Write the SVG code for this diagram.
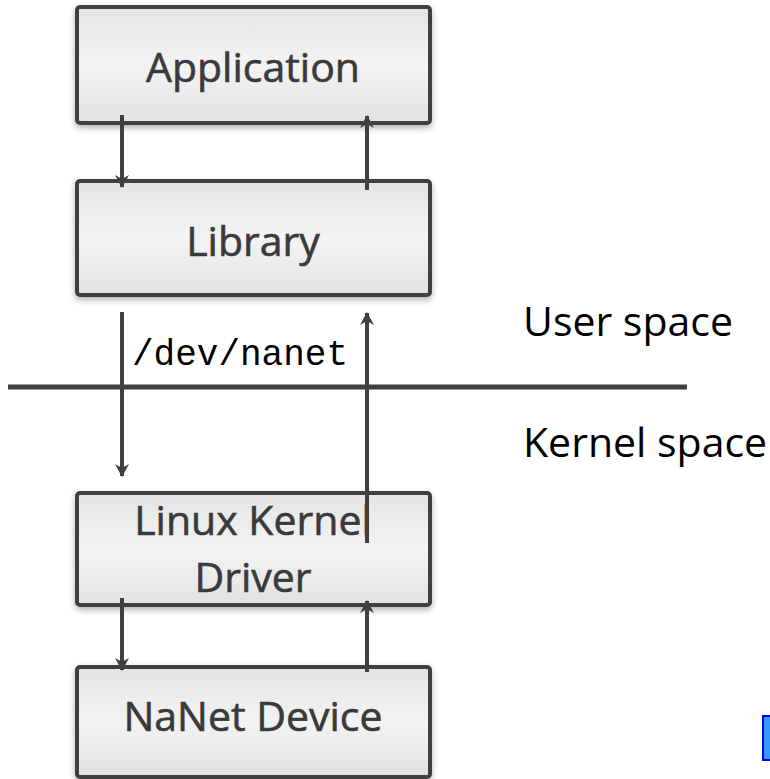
<svg xmlns="http://www.w3.org/2000/svg" width="770" height="779" viewBox="0 0 770 779">
<defs>
<linearGradient id="g" x1="0" y1="0" x2="0" y2="1">
<stop offset="0" stop-color="#e4e4e4"/>
<stop offset="0.5" stop-color="#f3f3f3"/>
<stop offset="1" stop-color="#e2e2e2"/>
</linearGradient>
<filter id="sh" x="-10%" y="-10%" width="120%" height="130%">
<feDropShadow dx="0" dy="3" stdDeviation="3" flood-color="#000" flood-opacity="0.3"/>
</filter>
<marker id="ah" markerWidth="16" markerHeight="16" refX="12" refY="7" orient="auto" markerUnits="userSpaceOnUse" overflow="visible">
<path d="M0,0 L13,7 L0,14 L4,7 Z" fill="#404040"/>
</marker>
<style>
.box{fill:url(#g);stroke:#404040;stroke-width:4;filter:url(#sh)}
.lbl{font-family:"Open Sans","Noto Sans",sans-serif;font-size:41px;fill:#3a3a3a;stroke:#3a3a3a;stroke-width:0.6;text-anchor:middle}
.side{font-family:"Open Sans","Noto Sans",sans-serif;font-size:41px;fill:#000}
.mono{font-family:"Liberation Mono","DejaVu Sans Mono",monospace;font-size:36px;fill:#000}
.con{stroke:#404040;stroke-width:4;fill:none}
</style>
</defs>
<g id="application"><rect class="box" x="77" y="7" width="353" height="116" rx="3"/><text class="lbl" x="253" y="82">Application</text></g>
<g id="library"><rect class="box" x="77" y="181" width="353" height="114" rx="3"/><text class="lbl" x="253" y="256">Library</text></g>
<g id="driver"><rect class="box" x="77" y="493" width="353" height="112" rx="3"/><text class="lbl" x="253" y="535">Linux Kernel</text><text class="lbl" x="253" y="592">Driver</text></g>
<g id="device"><rect class="box" x="77" y="667" width="353" height="110" rx="3"/><text class="lbl" x="253" y="731">NaNet Device</text></g>
<g id="boundary"><line x1="8" y1="387" x2="687" y2="387" stroke="#404040" stroke-width="5"/><text class="side" x="523" y="336">User space</text><text class="side" x="523" y="457">Kernel space</text><text class="mono" x="132" y="365">/dev/nanet</text></g>
<g id="connectors">
<line class="con" x1="122" y1="115" x2="122" y2="187" marker-end="url(#ah)"/>
<line class="con" x1="367" y1="190" x2="367" y2="116" marker-end="url(#ah)"/>
<line class="con" x1="122" y1="312" x2="122" y2="476" marker-end="url(#ah)"/>
<line class="con" x1="367" y1="543" x2="367" y2="313" marker-end="url(#ah)"/>
<line class="con" x1="122" y1="598" x2="122" y2="670" marker-end="url(#ah)"/>
<line class="con" x1="367" y1="672" x2="367" y2="601" marker-end="url(#ah)"/>
</g>
<rect x="763" y="716" width="10" height="44" fill="#3399ff" stroke="#0000ee" stroke-width="2"/>
</svg>
